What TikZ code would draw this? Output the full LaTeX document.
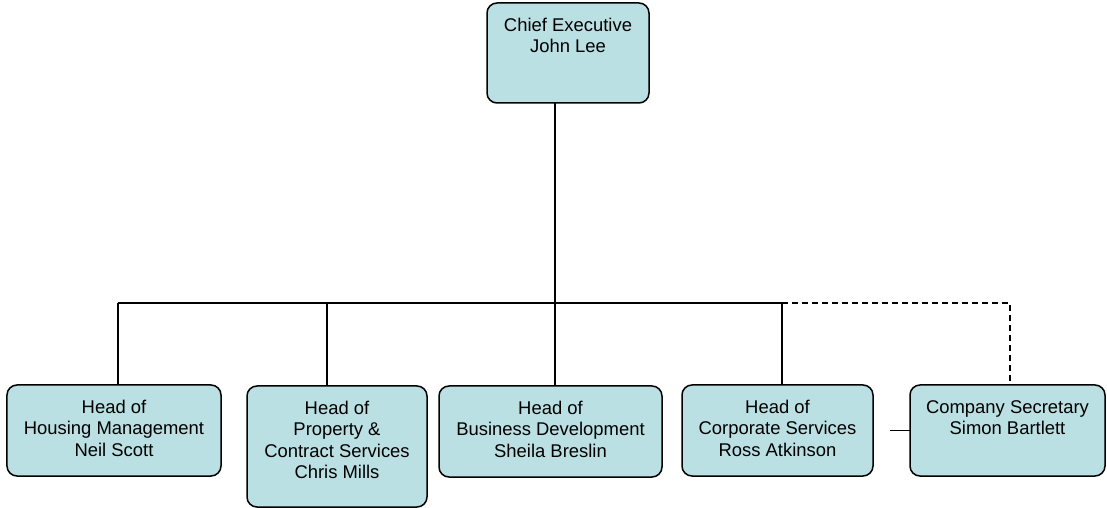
\documentclass[tikz,border=0pt]{standalone}
\usepackage{fontspec}
\setmainfont{Liberation Sans}
\definecolor{boxfill}{RGB}{187,224,227}
\begin{document}
\begin{tikzpicture}[x=1bp,y=-1bp,
  orgbox/.style={draw=black, line width=1.5bp, fill=boxfill, rounded corners=10bp,
    inner sep=0pt, outer sep=0pt},
  orgtext/.style={anchor=north, align=center, inner sep=0pt,
    font=\fontsize{18.5}{21.5}\selectfont},
  link/.style={draw=black, line width=1.5bp},
  dotlink/.style={link, dash pattern=on 6bp off 4bp}]
\useasboundingbox (0,0) rectangle (1107,508);

% boxes
\node[orgbox, minimum width=162bp, minimum height=100bp] (ceo) at (568,53) {};
\node[orgbox, minimum width=214bp, minimum height=91bp] (hm) at (114,430.5) {};
\node[orgbox, minimum width=180bp, minimum height=121bp] (pc) at (337,446.5) {};
\node[orgbox, minimum width=223bp, minimum height=91bp] (bd) at (550.5,431.5) {};
\node[orgbox, minimum width=191bp, minimum height=91bp] (cs) at (777.5,430.5) {};
\node[orgbox, minimum width=195bp, minimum height=91bp] (sec) at (1007.5,430.5) {};

% labels
\node[orgtext] (ceot) at ([yshift=-15bp]ceo.north) {Chief Executive\\John Lee};
\node[orgtext] (hmt) at ([yshift=-15bp]hm.north) {Head of\\Housing Management\\Neil Scott};
\node[orgtext] (pct) at ([yshift=-15bp]pc.north) {Head of\\Property \&\\Contract Services\\Chris Mills};
\node[orgtext] (bdt) at ([yshift=-15bp]bd.north) {Head of\\Business Development\\Sheila Breslin};
\node[orgtext] (cst) at ([yshift=-15bp]cs.north) {Head of\\Corporate Services\\Ross Atkinson};
\node[orgtext] (sect) at ([yshift=-15bp]sec.north) {Company Secretary\\Simon Bartlett};

% junctions on the reporting bus
\coordinate (j0) at (555,303);
\coordinate (j1) at (118,303);
\coordinate (j2) at (327,303);
\coordinate (j4) at (782,303);
\coordinate (j5) at (1010,303);
\coordinate (stub) at (890,430.5);

% connectors
\draw[link] (ceo.south -| j0) -- (j0);
\draw[link] (j1) -- (j4);
\draw[link] (j1) -- (j1 |- hm.north);
\draw[link] (j2) -- (j2 |- pc.north);
\draw[link] (j0) -- (j0 |- bd.north);
\draw[link] (j4) -- (j4 |- cs.north);
\draw[dotlink] (j4) -- (j5) -- (j5 |- sec.north);
\draw[link] (stub) -- (sec.west);
\end{tikzpicture}
\end{document}
